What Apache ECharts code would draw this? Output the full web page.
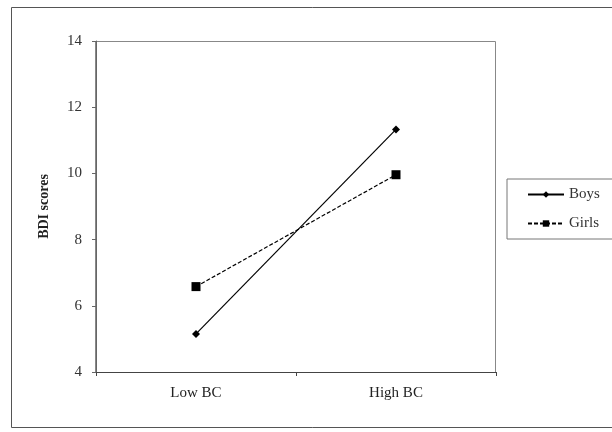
<!DOCTYPE html>
<html>
<head>
<meta charset="utf-8">
<script src="https://cdn.jsdelivr.net/npm/echarts@6/dist/echarts.min.js"></script>
<style>
  html, body { margin: 0; padding: 0; background: #fff; }
  #chart { width: 612px; height: 432px; }
</style>
</head>
<body>
<div id="chart"></div>
<script>
// Mean BDI scores by body-concern level, split by gender
const categories = ['Low BC', 'High BC'];
const boys = [5.15, 11.33];
const girls = [6.58, 9.96];
const yTicks = { min: 4, max: 14, step: 2 };

const font = '"Liberation Serif", "Times New Roman", serif';
const chart = echarts.init(document.getElementById('chart'), null, { renderer: 'canvas' });

chart.setOption({
  backgroundColor: '#ffffff',
  animation: false,
  graphic: [
    {
      type: 'rect',
      shape: { x: 11.5, y: 7.5, width: 620, height: 420 },
      style: { fill: 'none', stroke: '#555', lineWidth: 1 },
      silent: true
    },
    {
      type: 'rect',
      shape: { x: 95.5, y: 41.5, width: 400, height: 331 },
      style: { fill: 'none', stroke: '#888', lineWidth: 1 },
      silent: true,
      z: -1
    }
  ],
  grid: { left: 96, top: 41, width: 400, height: 331, containLabel: false },
  legend: {
    left: 507,
    top: 179,
    orient: 'vertical',
    itemWidth: 36,
    itemHeight: 8,
    itemGap: 14,
    padding: [8, 40, 8, 20],
    borderColor: '#777',
    borderWidth: 1,
    textStyle: { fontFamily: font, fontSize: 15, color: '#333' },
    data: ['Boys', 'Girls']
  },
  xAxis: {
    type: 'category',
    data: categories,
    boundaryGap: true,
    axisLine: { lineStyle: { color: '#444', width: 1 } },
    axisTick: { show: true, length: 4, inside: false, lineStyle: { color: '#444' }, interval: 0 },
    axisLabel: { fontFamily: font, fontSize: 15, color: '#222', margin: 14 },
    splitLine: { show: false }
  },
  yAxis: {
    type: 'value',
    min: yTicks.min,
    max: yTicks.max,
    interval: yTicks.step,
    name: 'BDI scores',
    nameLocation: 'middle',
    nameGap: 45,
    nameRotate: 90,
    nameTextStyle: { fontFamily: font, fontSize: 14, fontWeight: 'bold', color: '#222' },
    axisLine: { show: true, lineStyle: { color: '#666', width: 1 } },
    axisTick: { show: true, length: 4, lineStyle: { color: '#666' } },
    axisLabel: { fontFamily: font, fontSize: 15, color: '#333', margin: 14 },
    splitLine: { show: false }
  },
  series: [
    {
      name: 'Boys',
      type: 'line',
      data: boys,
      symbol: 'diamond',
      symbolSize: 8,
      showAllSymbol: true,
      itemStyle: { color: '#000' },
      lineStyle: { color: '#000', width: 1.2, type: 'solid' }
    },
    {
      name: 'Girls',
      type: 'line',
      data: girls,
      symbol: 'rect',
      symbolSize: 9,
      showAllSymbol: true,
      itemStyle: { color: '#000' },
      lineStyle: { color: '#000', width: 1.2, type: [4, 2] }
    }
  ]
});
</script>
</body>
</html>
